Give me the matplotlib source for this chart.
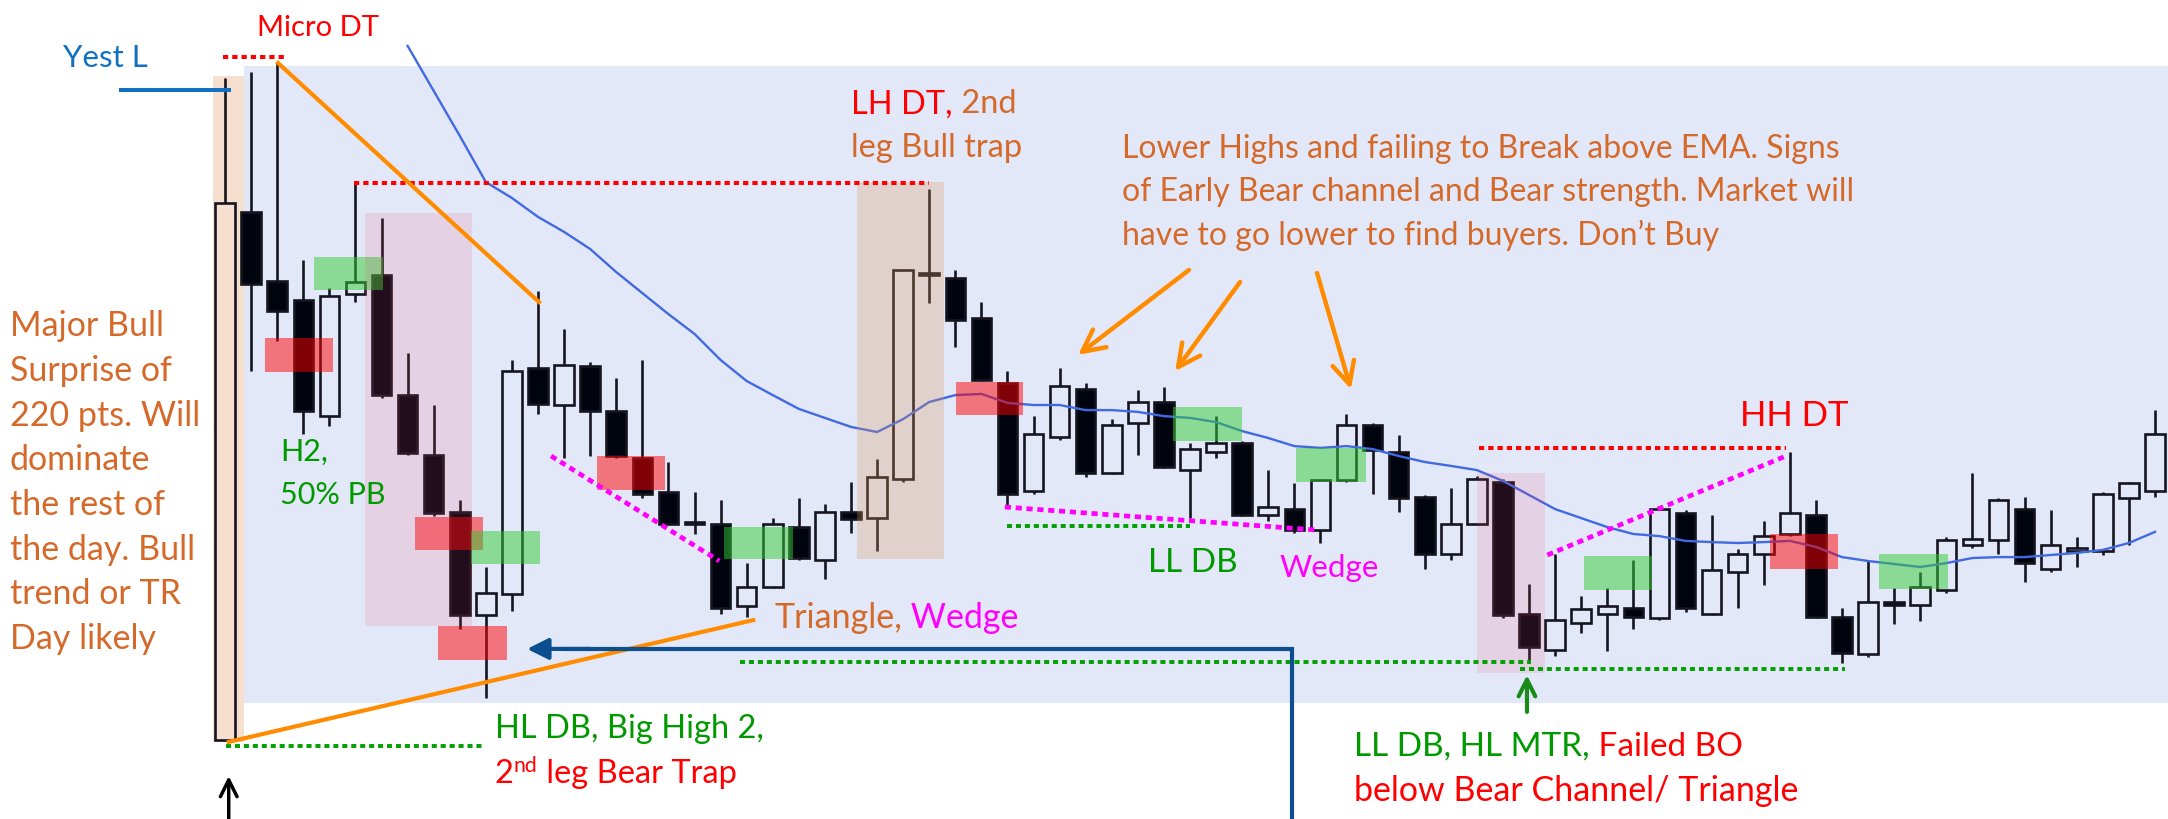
import matplotlib
matplotlib.use("Agg")
import matplotlib.pyplot as plt
from matplotlib.patches import Rectangle

plt.rcParams['font.family'] = ['Lato', 'DejaVu Sans']

# 5-min bars, prices in points
opens = [4053.5, 4229.5, 4206.5, 4200, 4161.5, 4202, 4208.5, 4168.5, 4148.5, 4129.5,
         4095, 4102, 4177.5, 4165, 4178, 4163, 4147.5, 4136, 4126, 4125.5,
         4098, 4104.5, 4124.5, 4113.5, 4129.5, 4127.5, 4140.5, 4209, 4207.5, 4194,
         4172.5, 4136.5, 4154.5, 4170.5, 4142.5, 4159, 4166, 4143.5, 4149.5, 4152.5,
         4128.5, 4130.5, 4123.5, 4140, 4158.5, 4149.5, 4134.5, 4115.5, 4125.5, 4139.5,
         4095.5, 4083.5, 4092.5, 4095.5, 4097.5, 4094, 4129, 4095.5, 4109.5, 4115.5,
         4122, 4128.5, 4094.5, 4082, 4099.5, 4098.5, 4103.5, 4118.5, 4120, 4130.5,
         4110.5, 4116.5, 4116.5, 4134, 4136.5]
highs = [4274, 4276, 4279, 4213.5, 4204, 4239, 4227.5, 4182.5, 4165, 4133.5,
         4111, 4180, 4203, 4190.5, 4179.5, 4174, 4180, 4146, 4136, 4133.5,
         4112.5, 4127.5, 4134, 4132, 4139.5, 4147, 4210.5, 4237, 4210, 4199.5,
         4176.5, 4161.5, 4177.5, 4172.5, 4160.5, 4170, 4171, 4152.5, 4161.5, 4153,
         4143.5, 4139, 4140.5, 4162, 4159, 4155, 4135, 4137.5, 4141.5, 4140.5,
         4105.5, 4115.5, 4101.5, 4104, 4113.5, 4131.5, 4130, 4128.5, 4117, 4126.5,
         4149.5, 4133.5, 4097.5, 4113, 4104, 4109.5, 4121, 4142.5, 4134, 4134.5,
         4130, 4121, 4136, 4139.5, 4163.5]
lows = [4053, 4176.5, 4186.5, 4155.5, 4158, 4199.5, 4167.5, 4148.5, 4128, 4090.5,
        4067.5, 4096.5, 4162, 4147.5, 4148, 4147.5, 4134, 4125, 4122, 4095.5,
        4094.5, 4104, 4113.5, 4107, 4122.5, 4116.5, 4139.5, 4199, 4184.5, 4173,
        4131, 4135.5, 4153.5, 4141, 4142, 4148.5, 4144, 4127.5, 4147.5, 4128,
        4126.5, 4122.5, 4119, 4139.5, 4135.5, 4129.5, 4110.5, 4113.5, 4125, 4094,
        4080, 4081.5, 4089, 4083, 4090.5, 4093.5, 4096, 4095, 4097.5, 4105,
        4121.5, 4094, 4079, 4081, 4092, 4093, 4102.5, 4117.5, 4115.5, 4106,
        4109.5, 4111, 4115, 4118.5, 4134.5]
closes = [4232.5, 4205.5, 4196.5, 4163, 4201.5, 4206, 4168.5, 4149, 4129, 4095,
          4102.5, 4176.5, 4165.5, 4178.5, 4163, 4148, 4135.5, 4125.5, 4125.5, 4097.5,
          4104.5, 4125.5, 4114, 4129.5, 4127, 4141, 4210, 4208.5, 4193.5, 4173.5,
          4135.5, 4155.5, 4171.5, 4142.5, 4158.5, 4166, 4144.5, 4150.5, 4152.5, 4128.5,
          4131, 4123.5, 4140, 4158.5, 4150, 4134, 4115.5, 4125.5, 4140.5, 4095,
          4084.5, 4093.5, 4097, 4098, 4094.5, 4130.5, 4097.5, 4110, 4115.5, 4121.5,
          4129, 4094.5, 4082.5, 4099.5, 4098.5, 4104.5, 4120, 4120.5, 4133.5, 4112.5,
          4118.5, 4117.5, 4135.5, 4139, 4155.5]

# 20 EMA, from bar 7 on
ema_start = 7
ema = [4284.7, 4269.7, 4254.7, 4239.3, 4234, 4227.7, 4222.7, 4217, 4209.3,
       4202.3, 4195.3, 4188.7, 4180, 4173, 4168.3, 4163.7, 4160.7, 4157.7, 4156,
       4160.3, 4166, 4168.3, 4168.7, 4165.7, 4165, 4165, 4163.3, 4163.3, 4162.7,
       4161.3, 4160.7, 4159.3, 4156.3, 4154, 4151.3, 4150.7, 4151.3, 4150.3, 4148,
       4146, 4144.7, 4143.3, 4139.7, 4135, 4130.3, 4127.3, 4124.3, 4122, 4121.3,
       4119.7, 4119.3, 4119, 4119.3, 4119.7, 4117.7, 4114.3, 4113, 4112, 4111,
       4112.3, 4114, 4114.3, 4114.3, 4115, 4115.7, 4116.7, 4119, 4122.7]

ORANGE_TXT = '#D4692A'
ORANGE = '#FF8C00'
GREEN = '#009A00'
RED = '#FF0000'
MAGENTA = '#FF00FF'
EDGE = '#15151F'

fig = plt.figure(figsize=(21.68, 8.19), dpi=100)
ax = fig.add_axes([0, 0, 1, 1])
ax.set_xlim(-8.63, 74.5)
ax.set_ylim(4027, 4300)
ax.axis('off')

# background panel and surprise bar highlight
ax.add_patch(Rectangle((0.73, 4065.7), 80, 212.3, color='#E3E8F8', zorder=0, lw=0))
ax.add_patch(Rectangle((-0.46, 4052.7), 1.19, 222, color='#F6DFCF', zorder=0.5, lw=0))

# candles: hollow up bars, filled down bars, wicks stop at the body
n = len(opens)
idx = list(range(n))
tops = [max(o, c) for o, c in zip(opens, closes)]
bottoms = [min(o, c) for o, c in zip(opens, closes)]
ax.vlines(idx, tops, highs, color=EDGE, lw=1.9, zorder=1)
ax.vlines(idx, lows, bottoms, color=EDGE, lw=1.9, zorder=1)
heights = [t - b for t, b in zip(tops, bottoms)]
faces = ['none' if c >= o else '#00040F' for o, c in zip(opens, closes)]
ax.bar(idx, heights, bottom=bottoms, width=0.75, color=faces, edgecolor=EDGE,
       linewidth=1.9, zorder=2)

# EMA
ax.plot(range(ema_start, ema_start + len(ema)), ema, color='#4169E1', lw=1.7, zorder=3)

# shaded zones (x0, x1, y0, y1)
red_boxes = [(1.53, 4.14, 4176, 4187.3), (7.29, 9.89, 4116.7, 4127.7), (8.17, 10.81, 4080, 4091.3),
             (14.26, 16.87, 4136.7, 4148), (28.03, 30.6, 4161.7, 4172.7), (59.24, 61.85, 4110.3, 4122)]
green_boxes = [(3.41, 6.06, 4203.3, 4214.3), (9.43, 12.08, 4112, 4123), (19.13, 21.78, 4113.7, 4124.3),
               (36.35, 39.0, 4153, 4164.3), (41.07, 43.75, 4139.3, 4150.7), (52.1, 54.7, 4103.3, 4114.7),
               (63.4, 66.07, 4103.7, 4115.3)]
pink_boxes = [(5.37, 9.47, 4091.3, 4229), (48.0, 50.6, 4075.7, 4142.3)]
brown_boxes = [(24.23, 27.57, 4113.7, 4239.3)]

for boxes, col, a in [(red_boxes, (1, 0, 0), 0.5), (green_boxes, (0.2, 0.8, 0.2), 0.5),
                      (pink_boxes, (0.92, 0.27, 0.4), 0.14), (brown_boxes, (0.86, 0.59, 0.35), 0.27)]:
    for x0, x1, y0, y1 in boxes:
        ax.add_patch(Rectangle((x0, y0), x1 - x0, y1 - y0, facecolor=col, alpha=a, lw=0, zorder=4))

dots = (0, (1.3, 1.0))
# dotted levels
ax.plot([-0.08, 2.26], [4281, 4281], color=RED, lw=2.9, ls=dots, zorder=5)
ax.plot([4.95, 27.0], [4239, 4239], color=RED, lw=2.9, ls=dots, zorder=5)
ax.plot([48.1, 59.85], [4150.7, 4150.7], color=RED, lw=2.9, ls=dots, zorder=5)
ax.plot([0.04, 9.9], [4051.3, 4051.3], color='#00A000', lw=2.8, ls=dots, zorder=5)
ax.plot([19.75, 50.08], [4079.5, 4079.5], color='#00A000', lw=2.8, ls=dots, zorder=5)
ax.plot([49.65, 62.1], [4077, 4077], color='#00A000', lw=2.8, ls=dots, zorder=5)
ax.plot([30.0, 37.0], [4124.7, 4124.7], color='#00A000', lw=2.8, ls=dots, zorder=5)
ax.plot([12.5, 18.95], [4148, 4113], color=MAGENTA, lw=3.4, ls=dots, zorder=5)
ax.plot([29.9, 41.9], [4131, 4123.3], color=MAGENTA, lw=3.4, ls=dots, zorder=5)
ax.plot([50.7, 59.85], [4115, 4148], color=MAGENTA, lw=3.4, ls=dots, zorder=5)

# trend lines
ax.plot([2.03, 12.04], [4279, 4199.3], color=ORANGE, lw=3.0, zorder=5)
ax.plot([0.14, 20.25], [4052.7, 4093.3], color=ORANGE, lw=3.0, zorder=5)

# yesterday's low
ax.plot([-4.0, 0.15], [4270, 4270], color='#1170C0', lw=2.9, zorder=5)

# blue pointer
ax.plot([40.9, 40.9, 13], [4020, 4083.7, 4083.7], color='#0D4E8F', lw=3, zorder=5,
        solid_joinstyle='miter')
ax.annotate('', xy=(11.58, 4083.7), xytext=(14, 4083.7),
            arrowprops=dict(arrowstyle='-|>', color='#0D4E8F', lw=3, mutation_scale=32,
                            shrinkA=0, shrinkB=0), zorder=5)

# orange arrows to the lower highs
for (x0, y0), (x1, y1) in [((36.96, 4210), (32.71, 4181.7)),
                           ((38.92, 4206), (36.43, 4176.3)),
                           ((41.87, 4209), (43.17, 4170.3))]:
    ax.annotate('', xy=(x1, y1), xytext=(x0, y0),
                arrowprops=dict(arrowstyle='->', color=ORANGE, lw=3.2, mutation_scale=40,
                                shrinkA=0, shrinkB=0), zorder=6)

ax.annotate('', xy=(49.92, 4075), xytext=(49.92, 4062.7),
            arrowprops=dict(arrowstyle='->', color='#1A8A1A', lw=3, mutation_scale=30,
                            shrinkA=0, shrinkB=0), zorder=6)
ax.annotate('', xy=(0.14, 4041.3), xytext=(0.14, 4026),
            arrowprops=dict(arrowstyle='->', color='black', lw=2.5, mutation_scale=30,
                            shrinkA=0, shrinkB=0), zorder=6)

FS = 23.5


def line(x, y, parts, size=FS):
    t = None
    for s, c in parts:
        if t is None:
            t = ax.text(x, y, s, color=c, fontsize=size, va='center', ha='left', zorder=8)
        else:
            t = ax.annotate(s, xy=(1, 0), xycoords=t, color=c, fontsize=size,
                            va='bottom', ha='left', zorder=8)
    return t


ax.text(-4.6, 4280.7, 'Yest L', color='#1170C0', fontsize=22.5, ha='center', va='center', zorder=8)
ax.text(3.57, 4290.7, 'Micro DT', color=RED, fontsize=21, ha='center', va='center', zorder=8)

left_lines = ['Major Bull', 'Surprise of', '220 pts. Will', 'dominate', 'the rest of',
              'the day. Bull', 'trend or TR', 'Day likely']
for k, s in enumerate(left_lines):
    line(-8.25, 4191.3 - 14.9 * k, [(s, ORANGE_TXT)], size=24.5)

line(2.1, 4149.3, [('H2,', GREEN)], size=22)
line(2.1, 4135, [('50% PB', GREEN)], size=22)

line(24.0, 4265.3, [('LH DT,', RED), (' 2nd', ORANGE_TXT)])
line(24.0, 4250.7, [('leg Bull trap', ORANGE_TXT)])

para = ['Lower Highs and failing to Break above EMA. Signs',
        'of Early Bear channel and Bear strength. Market will',
        'have to go lower to find buyers. Don\u2019t Buy']
for k, s in enumerate(para):
    line(34.4, 4250.3 - 14.3 * k, [(s, ORANGE_TXT)], size=23)

line(21.05, 4094, [('Triangle,', ORANGE_TXT), (' Wedge', MAGENTA)], size=24.5)

line(10.35, 4057, [('HL DB, Big High 2,', GREEN)])
two = ax.text(10.35, 4042, '2', color=RED, fontsize=FS, va='center', ha='left', zorder=8)
nd = ax.annotate('nd', xy=(1, 0.45), xycoords=two, color=RED, fontsize=FS * 0.65,
                 va='bottom', ha='left', zorder=8)
ax.annotate(' leg Bear Trap', xy=(1, 0), xycoords=(nd, two), color=RED, fontsize=FS,
            va='bottom', ha='left', zorder=8)

line(35.4, 4112.3, [('LL DB', GREEN)], size=24)
line(40.45, 4110.7, [('Wedge', MAGENTA)], size=22.5)
line(58.1, 4161.3, [('HH DT', RED)], size=25)

line(43.3, 4051, [('LL DB, HL MTR,', GREEN), (' Failed BO', RED)], size=24)
line(43.3, 4036.3, [('below Bear Channel/ Triangle', RED)], size=24.5)

fig.savefig('out.png', dpi=100)
